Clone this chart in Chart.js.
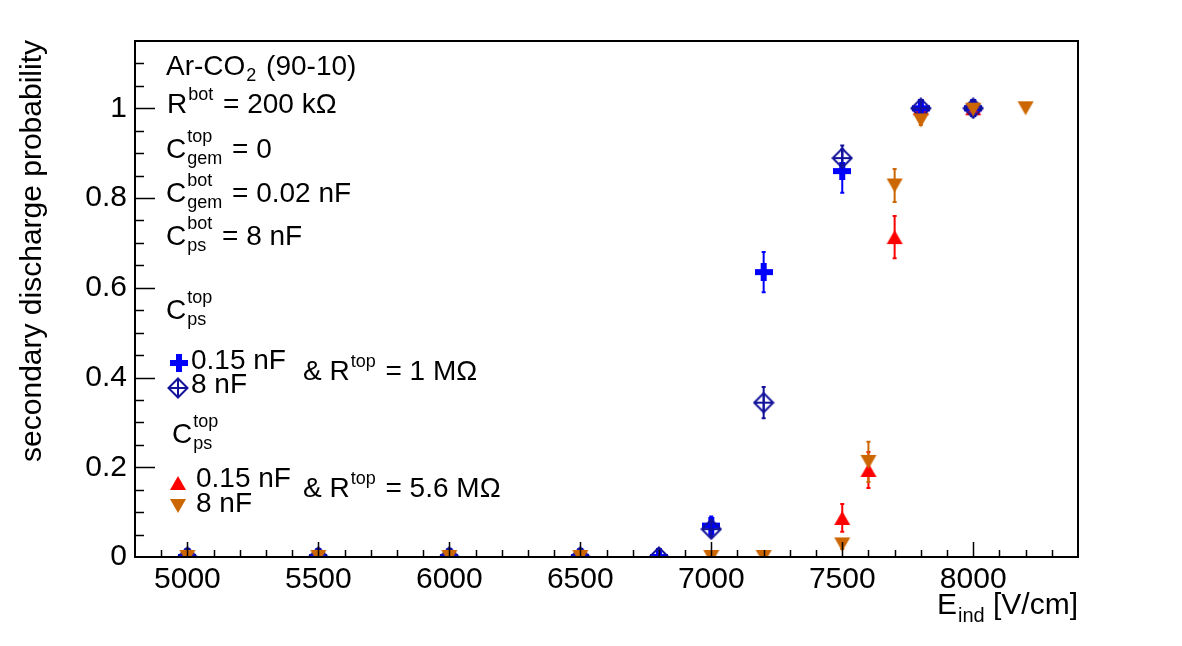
<!DOCTYPE html>
<html>
<head>
<meta charset="utf-8">
<script src="https://cdn.jsdelivr.net/npm/chart.js@4/dist/chart.umd.min.js"></script>
<style>
html,body{margin:0;padding:0;background:#fff;}
#wrap{width:1182px;height:646px;}
</style>
</head>
<body>
<div id="wrap"><canvas id="c" width="1182" height="646"></canvas></div>
<script>
// ---- data ----
const xTicks = [5000, 5500, 6000, 6500, 7000, 7500, 8000];
const yTicks = [0, 0.2, 0.4, 0.6, 0.8, 1];

const blueX   = [5000, 5500, 6000, 6500, 6800, 7000, 7200, 7500, 7800, 8000];
const blueY   = [0, 0, 0, 0, 0, 0.070, 0.635, 0.860, 1.000, 1.000];
const blueErr = [0, 0, 0, 0, 0, 0.020, 0.045, 0.048, 0.005, 0.005];

const diamX   = [5000, 5500, 6000, 6500, 6800, 7000, 7200, 7500, 7800, 8000];
const diamY   = [0, 0, 0, 0, 0, 0.062, 0.344, 0.889, 1.000, 1.000];
const diamErr = [0, 0, 0, 0, 0, 0.015, 0.035, 0.028, 0.005, 0.005];

const redX   = [5000, 5500, 6000, 6500, 7000, 7200, 7500, 7600, 7700, 7800, 8000];
const redY   = [0, 0, 0, 0, 0, 0, 0.087, 0.194, 0.713, 1.000, 1.000];
const redErr = [0, 0, 0, 0, 0, 0, 0.031, 0.040, 0.047, 0.005, 0.005];

const orgX   = [5000, 5500, 6000, 6500, 7000, 7200, 7500, 7600, 7700, 7800, 8000, 8200];
const orgY   = [0, 0, 0, 0, 0, 0, 0.028, 0.212, 0.828, 0.973, 0.997, 1.000];
const orgErr = [0, 0, 0, 0, 0, 0, 0.010, 0.045, 0.037, 0.010, 0.005, 0];

const COL_BLUE = '#0000ff';
const COL_NAVY = '#12129a';
const COL_RED = '#ff0000';
const COL_ORG = '#cc6600';

// ---- marker canvases ----
function mk(w, h, fn) { const c = document.createElement('canvas'); c.width = w; c.height = h; fn(c.getContext('2d')); return c; }
const mCross = mk(18, 18, g => { g.fillStyle = COL_BLUE; g.fillRect(6, 0, 6, 18); g.fillRect(0, 6, 18, 6); });
const mDiam = mk(22, 22, g => {
  g.strokeStyle = COL_NAVY; g.lineWidth = 2;
  g.beginPath(); g.moveTo(11, 1.5); g.lineTo(20.5, 11); g.lineTo(11, 20.5); g.lineTo(1.5, 11); g.closePath(); g.stroke();
  g.beginPath(); g.moveTo(11, 1.5); g.lineTo(11, 20.5); g.moveTo(1.5, 11); g.lineTo(20.5, 11); g.stroke();
});
const mUp = mk(18, 16, g => { g.fillStyle = COL_RED; g.beginPath(); g.moveTo(1, 15); g.lineTo(17, 15); g.lineTo(9, 1); g.closePath(); g.fill(); });
const mDown = mk(18, 16, g => { g.fillStyle = COL_ORG; g.beginPath(); g.moveTo(1, 1); g.lineTo(17, 1); g.lineTo(9, 15); g.closePath(); g.fill(); });

function pts(xs, ys) { return xs.map((x, i) => ({ x: x, y: ys[i] })); }

const errs = [blueErr, diamErr, redErr, orgErr];
const errCols = [COL_BLUE, COL_NAVY, COL_RED, COL_ORG];

const FONT = '"Liberation Sans", Arial, Helvetica, sans-serif';

// rich text: parts = [{t}, {sup, sub}]
function drawRich(ctx, x, y, parts, opt) {
  opt = opt || {};
  const big = opt.big || 28, small = opt.small || 18;
  let cx = x;
  ctx.textBaseline = 'alphabetic';
  ctx.textAlign = 'left';
  for (const p of parts) {
    if (p.t !== undefined) {
      ctx.font = big + 'px ' + FONT;
      ctx.fillText(p.t, cx, y);
      cx += ctx.measureText(p.t).width;
    } else {
      ctx.font = small + 'px ' + FONT;
      let w = 0;
      const both = p.sup !== undefined && p.sub !== undefined;
      if (p.sup !== undefined) {
        ctx.fillText(p.sup, cx + 1, y - (both ? 16.5 : 13));
        w = Math.max(w, ctx.measureText(p.sup).width);
      }
      if (p.sub !== undefined) {
        ctx.fillText(p.sub, cx + 1, y + 6);
        w = Math.max(w, ctx.measureText(p.sub).width);
      }
      cx += w + 3;
    }
  }
  return cx;
}

const decor = {
  id: 'decor',
  beforeDatasetsDraw(chart) {
    const ctx = chart.ctx, xs = chart.scales.x, ys = chart.scales.y;
    ctx.save();
    chart.data.datasets.forEach((ds, di) => {
      const e = errs[di];
      ctx.strokeStyle = errCols[di];
      ctx.lineWidth = 2;
      ds.data.forEach((p, i) => {
        if (!e[i]) return;
        const px = xs.getPixelForValue(p.x);
        const y1 = ys.getPixelForValue(p.y + e[i]);
        const y2 = ys.getPixelForValue(Math.max(0, p.y - e[i]));
        ctx.beginPath();
        ctx.moveTo(px, y1); ctx.lineTo(px, y2);
        ctx.moveTo(px - 2, y1); ctx.lineTo(px + 2, y1);
        ctx.moveTo(px - 2, y2); ctx.lineTo(px + 2, y2);
        ctx.stroke();
      });
    });
    ctx.restore();
  },
  afterDraw(chart) {
    const ctx = chart.ctx, a = chart.chartArea, xs = chart.scales.x, ys = chart.scales.y;
    ctx.save();
    // frame
    ctx.strokeStyle = '#000';
    ctx.lineWidth = 2;
    ctx.strokeRect(a.left, a.top, a.right - a.left, a.bottom - a.top);
    // ticks
    ctx.lineWidth = 1.5;
    ctx.beginPath();
    for (let v = 4900; v <= 8300; v += 100) {
      const px = Math.round(xs.getPixelForValue(v)) + 0.5;
      const len = (v % 500 === 0) ? 15 : 7;
      ctx.moveTo(px, a.bottom); ctx.lineTo(px, a.bottom - len);
    }
    for (let k = 1; k <= 22; k++) {
      const v = k * 0.05;
      const py = Math.round(ys.getPixelForValue(v)) + 0.5;
      const len = (k % 4 === 0) ? 20 : 9;
      ctx.moveTo(a.left, py); ctx.lineTo(a.left + len, py);
    }
    ctx.stroke();

    ctx.fillStyle = '#000';
    // axis titles
    ctx.save();
    ctx.translate(41, 40);
    ctx.rotate(-Math.PI / 2);
    ctx.font = '30px ' + FONT;
    ctx.textAlign = 'right';
    ctx.textBaseline = 'alphabetic';
    ctx.fillText('secondary discharge probability', 0, 0);
    ctx.restore();

    // x title right-aligned
    ctx.font = '30px ' + FONT;
    const t2 = ' [V/cm]';
    const w2 = ctx.measureText(t2).width;
    const wE = ctx.measureText('E').width;
    ctx.font = '20px ' + FONT;
    const wSub = ctx.measureText('ind').width;
    const xEnd = a.right;
    const xStart = xEnd - w2 - wSub - 1 - wE;
    ctx.font = '30px ' + FONT;
    ctx.textAlign = 'left';
    ctx.fillText('E', xStart, 614);
    ctx.font = '20px ' + FONT;
    ctx.fillText('ind', xStart + wE + 1, 622);
    ctx.font = '30px ' + FONT;
    ctx.fillText(t2, xStart + wE + 1 + wSub, 614);

    // annotation
    drawRich(ctx, 166, 75, [{ t: 'Ar-CO' }, { sub: '2' }, { t: ' (90-10)' }]);
    drawRich(ctx, 167, 113, [{ t: 'R' }, { sup: 'bot' }, { t: ' = 200 k\u03A9' }]);
    drawRich(ctx, 166, 158, [{ t: 'C' }, { sup: 'top', sub: 'gem' }, { t: ' = 0' }]);
    drawRich(ctx, 166, 202, [{ t: 'C' }, { sup: 'bot', sub: 'gem' }, { t: ' = 0.02 nF' }]);
    drawRich(ctx, 166, 245, [{ t: 'C' }, { sup: 'bot', sub: 'ps' }, { t: ' = 8 nF' }]);
    drawRich(ctx, 166, 319, [{ t: 'C' }, { sup: 'top', sub: 'ps' }]);

    ctx.drawImage(mCross, 179 - 9, 363 - 9);
    drawRich(ctx, 191, 369, [{ t: '0.15 nF' }]);
    ctx.drawImage(mDiam, 178 - 11, 388 - 11);
    drawRich(ctx, 191, 393, [{ t: '8 nF' }]);
    drawRich(ctx, 303, 380, [{ t: '& R' }, { sup: 'top' }, { t: ' = 1 M\u03A9' }]);

    drawRich(ctx, 172, 443, [{ t: 'C' }, { sup: 'top', sub: 'ps' }]);
    ctx.drawImage(mUp, 178 - 9, 483 - 8);
    drawRich(ctx, 196, 487, [{ t: '0.15 nF' }]);
    ctx.drawImage(mDown, 178 - 9, 506 - 8);
    drawRich(ctx, 196, 512, [{ t: '8 nF' }]);
    drawRich(ctx, 303, 497, [{ t: '& R' }, { sup: 'top' }, { t: ' = 5.6 M\u03A9' }]);
    ctx.restore();
  }
};

new Chart(document.getElementById('c'), {
  type: 'scatter',
  data: {
    datasets: [
      { label: '0.15 nF, 1 MOhm', data: pts(blueX, blueY), pointStyle: mCross, pointRadius: 9, order: 2, showLine: false },
      { label: '8 nF, 1 MOhm', data: pts(diamX, diamY), pointStyle: mDiam, pointRadius: 9, order: 1, showLine: false },
      { label: '0.15 nF, 5.6 MOhm', data: pts(redX, redY), pointStyle: mUp, pointRadius: 9, order: 3, showLine: false },
      { label: '8 nF, 5.6 MOhm', data: pts(orgX, orgY), pointStyle: mDown, pointRadius: 9, order: 0, showLine: false }
    ]
  },
  options: {
    responsive: false,
    animation: false,
    events: [],
    layout: { padding: { top: 41, right: 104, left: 0, bottom: 0 } },
    plugins: { legend: { display: false }, tooltip: { enabled: false } },
    scales: {
      x: {
        type: 'linear', min: 4800, max: 8400,
        grid: { display: false, drawTicks: false, tickLength: 0 }, border: { display: false },
        afterBuildTicks: s => { s.ticks = xTicks.map(v => ({ value: v })); },
        afterFit: s => { s.height = 89; },
        ticks: { color: '#000', font: { family: FONT, size: 30 }, padding: 5, maxRotation: 0, autoSkip: false, callback: v => String(v) }
      },
      y: {
        type: 'linear', min: 0, max: 1.15,
        grid: { display: false, drawTicks: false, tickLength: 0 }, border: { display: false },
        afterBuildTicks: s => { s.ticks = yTicks.map(v => ({ value: v })); },
        afterFit: s => { s.width = 135; },
        ticks: { color: '#000', font: { family: FONT, size: 30 }, padding: 8, autoSkip: false, callback: v => (Math.round(v * 10) / 10).toString() }
      }
    }
  },
  plugins: [decor]
});
</script>
</body>
</html>
